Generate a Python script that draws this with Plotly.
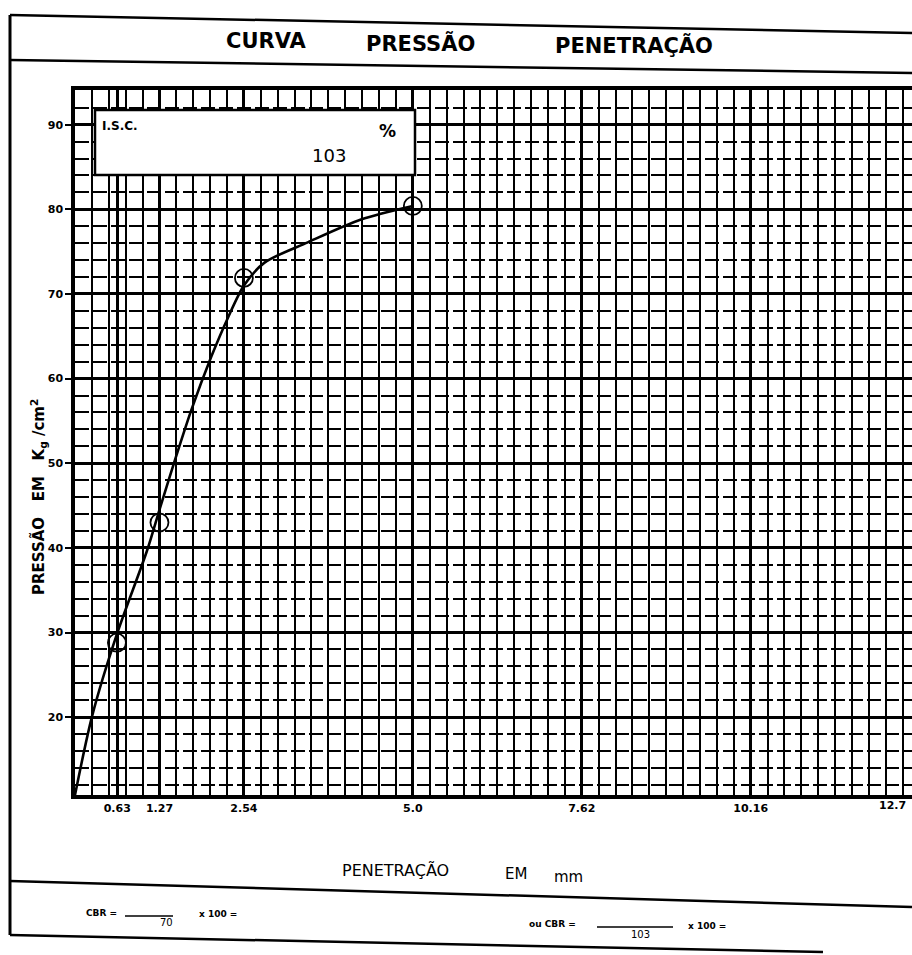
import plotly.graph_objects as go

# ---------------- data ----------------
pen_points_mm = [0.63, 1.27, 2.54, 5.08]
press_points = [28.8, 43.0, 71.9, 80.4]

curve_pen_mm = [0.0, 0.26, 0.63, 1.08, 1.27, 1.5, 1.75, 2.05, 2.3, 2.54, 2.85, 3.5, 4.3, 5.08]
curve_press = [10.8, 20.2, 29.8, 39.6, 44.5, 50.3, 56.3, 62.6, 67.2, 71.0, 73.7, 76.1, 78.8, 80.4]

x_tick_vals = [0.635, 1.27, 2.54, 5.08, 7.62, 10.16]
x_tick_text = ["0.63", "1.27", "2.54", "5.0", "7.62", "10.16"]
x_last_tick_val = 12.7
x_last_tick_text = "12.7"
y_tick_vals = [20, 30, 40, 50, 60, 70, 80, 90]

isc_value = "103"
cbr_den_1 = "70"
cbr_den_2 = "103"

# ---------------- layout geometry ----------------
W, H = 912, 955
L, R, T, B = 75, 0, 90, 160
x_range = [0, 12.586]
y_range = [10.8, 94.1]
PW, PH = W - L - R, H - T - B


def px(xp):
    return (xp - L) / PW


def py(yp):
    return (H - B - yp) / PH


FONT = "DejaVu Sans"
BLACK = "black"

fig = go.Figure()

# fitted curve
fig.add_trace(go.Scatter(
    x=curve_pen_mm, y=curve_press, mode="lines",
    line=dict(color=BLACK, width=2.6, shape="spline", smoothing=0.8),
    hoverinfo="skip", showlegend=False))

# measured points
fig.add_trace(go.Scatter(
    x=pen_points_mm, y=press_points, mode="markers",
    marker=dict(symbol="circle-open", size=18, color=BLACK, line=dict(width=1.8, color=BLACK)),
    showlegend=False))

shapes = []


def seg(x0, y0, x1, y1, w=2.5):
    shapes.append(dict(type="line", xref="paper", yref="paper",
                       x0=px(x0), y0=py(y0), x1=px(x1), y1=py(y1),
                       line=dict(color=BLACK, width=w), layer="above"))


# frame lines (scanned sheet is slightly tilted)
seg(10, 15, 912, 33, 2.5)
seg(10, 60, 912, 73, 2.5)
seg(10, 15, 10, 935, 3)
seg(10, 881, 912, 907, 2.5)
seg(10, 935, 823, 952, 2.5)
# fraction bars
seg(125, 916, 173, 916, 1.5)
seg(597, 927, 673, 927, 1.5)

# I.S.C. box
shapes.append(dict(type="rect", xref="paper", yref="paper",
                   x0=px(95), x1=px(415), y0=py(175), y1=py(110),
                   fillcolor="white", line=dict(color=BLACK, width=2.5), layer="above"))

ann = []


def text(t, x, y, size, xanchor="center", bold=True, angle=0):
    ann.append(dict(text=t, xref="paper", yref="paper", x=px(x), y=py(y),
                    xanchor=xanchor, yanchor="middle", showarrow=False, textangle=angle,
                    font=dict(family=FONT, size=size, color=BLACK,
                              weight="bold" if bold else "normal")))


# title
text("CURVA", 266, 41, 21)
text("PRESSÃO", 420, 43, 21)
text("PENETRAÇÃO", 634, 45, 21)

# box content
text("I.S.C.", 100, 126, 12, xanchor="left")
text("%", 387, 131, 17)
text(isc_value, 329, 155, 18, bold=False)

# axis titles
text("PRESSÃO   EM   K<sub>g</sub> /cm<sup>2</sup>", 38, 497, 15, angle=-90)
text("PENETRAÇÃO", 395, 870, 16, bold=False)
text("EM", 516, 874, 15, bold=False)
text("mm", 568, 877, 15, bold=False)

# formulas
text("CBR =", 101, 913, 9)
text(cbr_den_1, 166, 922, 10, bold=False)
text("x 100 =", 218, 914, 9)
text("ou CBR =", 552, 924, 9)
text(cbr_den_2, 640, 934, 10, bold=False)
text("x 100 =", 707, 926, 9)

# last x tick label (at the cropped edge)
ann.append(dict(text=x_last_tick_text, xref="paper", yref="paper",
                x=(x_last_tick_val - x_range[0]) / (x_range[1] - x_range[0]), y=py(806),
                xanchor="center", yanchor="middle", xshift=-27, showarrow=False,
                font=dict(family=FONT, size=11, color=BLACK, weight="bold")))

fig.update_layout(
    width=W, height=H, autosize=False,
    margin=dict(l=L, r=R, t=T, b=B, pad=0),
    paper_bgcolor="white", plot_bgcolor="white",
    showlegend=False, shapes=shapes, annotations=ann,
    xaxis=dict(range=x_range, tickmode="array", tickvals=x_tick_vals, ticktext=x_tick_text,
               showgrid=True, gridcolor=BLACK, gridwidth=3, zeroline=False,
               showline=True, linecolor=BLACK, linewidth=3.5, mirror=True,
               ticks="", tickfont=dict(family=FONT, size=11, color=BLACK, weight="bold"),
               minor=dict(tick0=0, dtick=0.254, showgrid=True, gridcolor=BLACK, gridwidth=2)),
    yaxis=dict(range=y_range, tickmode="array", tickvals=y_tick_vals,
               showgrid=True, gridcolor=BLACK, gridwidth=3, zeroline=False,
               showline=True, linecolor=BLACK, linewidth=3.5, mirror=False,
               ticks="outside", ticklen=6, tickwidth=2, tickcolor=BLACK,
               tickfont=dict(family=FONT, size=11, color=BLACK, weight="bold"),
               minor=dict(tick0=0, dtick=2, showgrid=True, gridcolor=BLACK, gridwidth=2,
                          griddash="14px,4px")),
)

fig.write_html("out.html", config={"displayModeBar": False},
               post_script="document.body.style.margin='0';document.body.style.overflow='hidden';")
